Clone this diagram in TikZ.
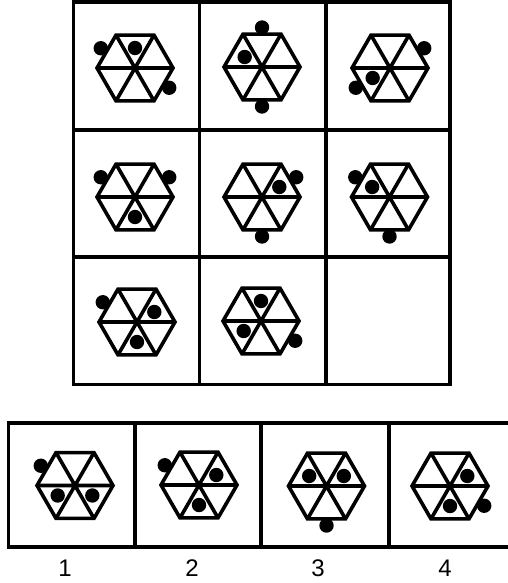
\documentclass[tikz,border=0pt]{standalone}
\usepackage{fontspec}
\setmainfont{Liberation Sans}
\tikzset{
  frame/.style={line width=3.8pt, line join=miter},
  hexline/.style={line width=3.6pt, line join=miter},
  blackdot/.style={fill=black},
  numlabel/.style={inner sep=0pt, anchor=base, font=\fontsize{24pt}{28pt}\selectfont}
}
\newcommand\hexcell[4]{%
  \begin{scope}[shift={(#1,#2)}]
    \draw[hexline] (0:38) -- (60:38) -- (120:38) -- (180:38) -- (240:38) -- (300:38) -- cycle;
    \draw[hexline] (0:38) -- (180:38) (60:38) -- (240:38) (120:38) -- (300:38);
    \foreach \a in {#3} {\fill[blackdot] (-\a:39.5) circle (7.2pt);}
    \foreach \a in {#4} {\fill[blackdot] (-\a:20) circle (7.2pt);}
  \end{scope}}
\begin{document}
\begin{tikzpicture}[x=1pt,y=-1pt]
\useasboundingbox[fill=white] (0,0) rectangle (507,583);
% matrix grid
\draw[frame] (73.5,2) rectangle (450,384.5);
\draw[frame] (199.5,2) -- (199.5,384.5) (326,2) -- (326,384.5);
\draw[frame] (73.5,130) -- (450,130) (73.5,257) -- (450,257);
% row 1
\hexcell{135}{68}{150,330}{90}
\hexcell{262}{67}{90,270}{150}
\hexcell{390}{68}{30,210}{210}
% row 2
\hexcell{135}{197}{150,30}{270}
\hexcell{262}{197}{30,270}{30}
\hexcell{389.5}{197}{150,270}{150}
% row 3
\hexcell{137}{322}{150}{30,270}
\hexcell{261}{321}{330}{90,210}
% answers
\draw[frame] (516,423) -- (8.5,423) -- (8.5,547) -- (516,547);
\draw[frame] (135,423) -- (135,547) (261,423) -- (261,547) (389,423) -- (389,547);
\hexcell{75}{485.5}{150}{210,330}
\hexcell{199}{485}{150}{30,270}
\hexcell{326.5}{486}{270}{150,30}
\hexcell{450}{486}{330}{30,270}
\node[numlabel] (l1) at (65,576.6) {1};
\node[numlabel] (l2) at (192,576.6) {2};
\node[numlabel] (l3) at (318,576.6) {3};
\node[numlabel] (l4) at (445,576.6) {4};
\end{tikzpicture}
\end{document}
